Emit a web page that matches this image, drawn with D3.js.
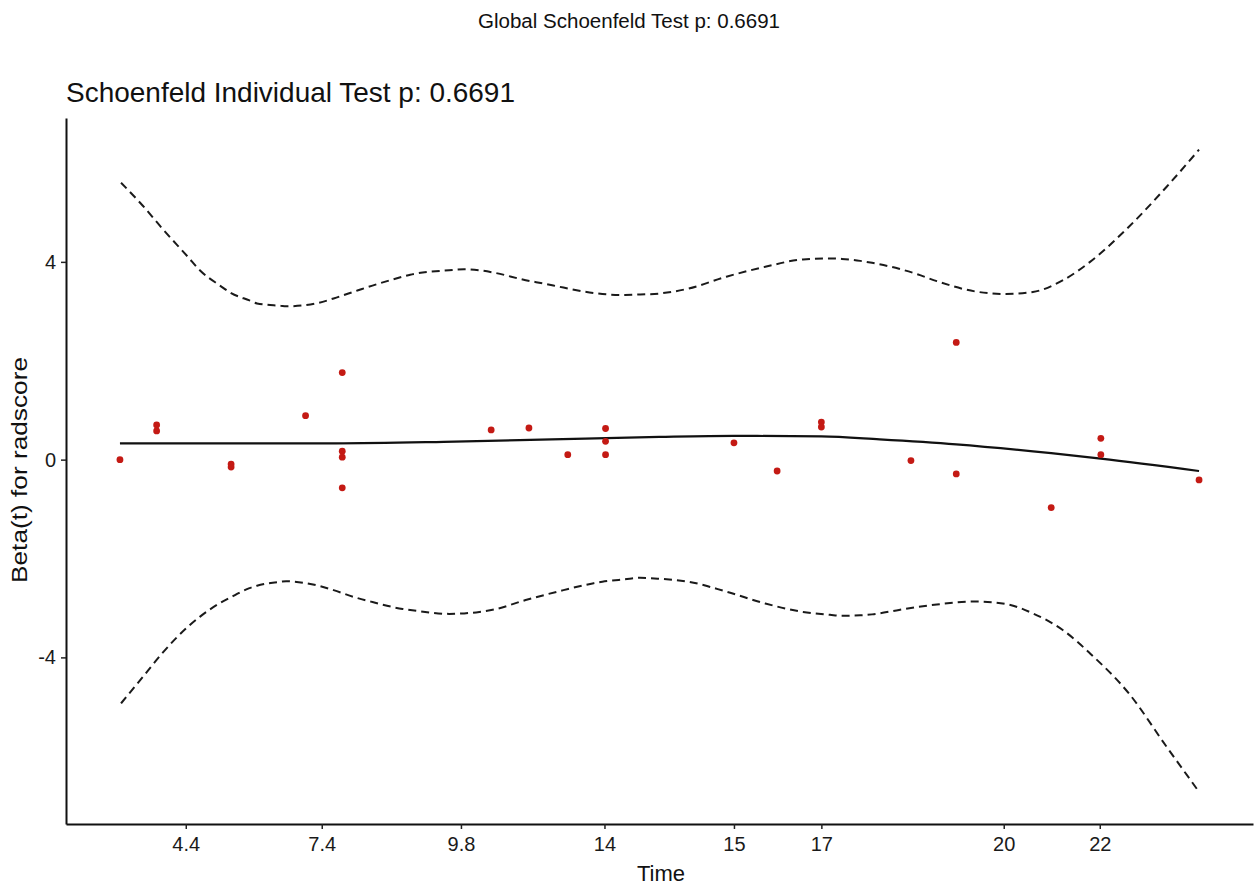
<!DOCTYPE html>
<html>
<head>
<meta charset="utf-8">
<script src="https://cdn.jsdelivr.net/npm/d3@7"></script>
<style>
    body { margin: 0; background: #fff; }
    text { font-family: "Liberation Sans", Arial, sans-serif; }
</style>
</head>
<body>
<div id="chart-area"></div>
<script>
const width = 1260;
const height = 893;

// transformed time (km scale) of each residual, and its scaled Schoenfeld residual
const pointTime = [0.000, 0.034, 0.034, 0.103, 0.103, 0.172, 0.206, 0.206, 0.206, 0.206,
    0.344, 0.379, 0.415, 0.450, 0.450, 0.450, 0.569, 0.609, 0.650, 0.650,
    0.733, 0.775, 0.775, 0.863, 0.909, 0.909, 1.000];
const pointBeta = [0.00, 0.70, 0.58, -0.09, -0.15, 0.89, 1.76, 0.17, 0.05, -0.57,
    0.60, 0.64, 0.10, 0.63, 0.37, 0.10, 0.34, -0.23, 0.76, 0.66,
    -0.02, 2.37, -0.29, -0.97, 0.43, 0.10, -0.41];

// smoothed beta(t)
const fitTime = [0, 0.1, 0.2, 0.3, 0.4, 0.5, 0.569, 0.65, 0.704, 0.775, 0.863, 0.909, 1.0];
const fitBeta = [0.33, 0.33, 0.33, 0.36, 0.41, 0.46, 0.48, 0.47, 0.41, 0.31, 0.13, 0.02, -0.23];

// confidence band
const bandTime = [0.001, 0.021, 0.039, 0.063, 0.074, 0.092, 0.103, 0.120, 0.127, 0.149, 0.154,
    0.170, 0.184, 0.198, 0.220, 0.234, 0.262, 0.269, 0.305, 0.319, 0.333, 0.347,
    0.376, 0.393, 0.411, 0.439, 0.447, 0.468, 0.482, 0.500, 0.527, 0.562, 0.598,
    0.633, 0.658, 0.669, 0.686, 0.697, 0.722, 0.739, 0.757, 0.793, 0.821, 0.846,
    0.874, 0.899, 0.935, 0.970, 1.000];
const bandUpper = [5.60, 5.14, 4.68, 4.10, 3.83, 3.53, 3.37, 3.22, 3.16, 3.11, 3.10,
    3.12, 3.17, 3.26, 3.42, 3.52, 3.70, 3.74, 3.83, 3.85, 3.83, 3.78,
    3.63, 3.56, 3.48, 3.37, 3.35, 3.33, 3.34, 3.36, 3.46, 3.70, 3.90,
    4.05, 4.07, 4.06, 4.02, 3.98, 3.86, 3.75, 3.61, 3.40, 3.35, 3.39,
    3.63, 4.00, 4.71, 5.52, 6.27];
const bandLower = [-4.93, -4.40, -3.92, -3.38, -3.18, -2.91, -2.78, -2.60, -2.55, -2.47, -2.46,
    -2.49, -2.55, -2.64, -2.80, -2.88, -3.02, -3.04, -3.12, -3.11, -3.08, -3.03,
    -2.84, -2.74, -2.64, -2.50, -2.47, -2.42, -2.39, -2.41, -2.47, -2.67, -2.91,
    -3.08, -3.14, -3.16, -3.15, -3.13, -3.04, -2.98, -2.93, -2.87, -2.92, -3.11,
    -3.45, -3.92, -4.73, -5.81, -6.72];

// x-axis breaks: position on the transformed scale and the original time label
const xTickPos = [0.061, 0.187, 0.316, 0.449, 0.569, 0.650, 0.819, 0.908];
const xTickLabels = ["4.4", "7.4", "9.8", "14", "15", "17", "20", "22"];
const yTicks = [-4, 0, 4];

const globalTitle = "Global Schoenfeld Test p: 0.6691";
const panelTitle = "Schoenfeld Individual Test p: 0.6691";

const svg = d3.select("#chart-area")
    .append("svg")
    .attr("width", width)
    .attr("height", height);

const x = d3.scaleLinear()
    .domain([-0.05, 1.05])
    .range([66, 1253]);

const y = d3.scaleLinear()
    .domain([-7.37, 6.91])
    .range([824, 118]);

svg.append("text")
    .attr("x", 478)
    .attr("y", 28)
    .attr("font-size", 20)
    .attr("textLength", 302)
    .attr("lengthAdjust", "spacingAndGlyphs")
    .attr("fill", "#111")
    .text(globalTitle);

svg.append("text")
    .attr("x", 66)
    .attr("y", 102)
    .attr("font-size", 28)
    .attr("textLength", 449)
    .attr("lengthAdjust", "spacingAndGlyphs")
    .attr("fill", "#111")
    .text(panelTitle);

const line = d3.line()
    .x(d => x(d[0]))
    .y(d => y(d[1]))
    .curve(d3.curveMonotoneX);

svg.selectAll("path.band")
    .data([bandUpper, bandLower])
    .enter().append("path")
    .attr("class", "band")
    .attr("d", vals => line(bandTime.map((t, i) => [t, vals[i]])))
    .attr("fill", "none")
    .attr("stroke", "#1a1a1a")
    .attr("stroke-width", 2)
    .attr("stroke-dasharray", "8,5");

svg.append("path")
    .attr("d", line(fitTime.map((t, i) => [t, fitBeta[i]])))
    .attr("fill", "none")
    .attr("stroke", "#111")
    .attr("stroke-width", 2.2);

svg.selectAll("circle")
    .data(pointTime.map((t, i) => ({ t: t, beta: pointBeta[i] })))
    .enter().append("circle")
    .attr("cx", d => x(d.t))
    .attr("cy", d => y(d.beta))
    .attr("r", 3.4)
    .attr("fill", "#c41a14");

const xAxis = svg.append("g")
    .attr("transform", `translate(0, ${824})`)
    .call(d3.axisBottom(x)
        .tickValues(xTickPos)
        .tickFormat((d, i) => xTickLabels[i])
        .tickSize(5)
        .tickPadding(8)
        .tickSizeOuter(0));

const yAxis = svg.append("g")
    .attr("transform", `translate(${66}, 0)`)
    .call(d3.axisLeft(y)
        .tickValues(yTicks)
        .tickFormat(d => String(d))
        .tickSize(5)
        .tickPadding(5)
        .tickSizeOuter(0));

[xAxis, yAxis].forEach(g => {
    g.select(".domain").attr("stroke", "#111").attr("stroke-width", 2);
    g.selectAll(".tick line").attr("stroke", "#222").attr("stroke-width", 1.5);
    g.selectAll(".tick text")
        .attr("font-family", "Liberation Sans, Arial, sans-serif")
        .attr("font-size", 20)
        .attr("fill", "#1a1a1a");
});

svg.append("text")
    .attr("x", 661)
    .attr("y", 881)
    .attr("text-anchor", "middle")
    .attr("font-size", 22)
    .attr("fill", "#111")
    .text("Time");

svg.append("text")
    .attr("transform", `translate(${27}, ${470}) rotate(-90)`)
    .attr("text-anchor", "middle")
    .attr("font-size", 22)
    .attr("textLength", 226)
    .attr("lengthAdjust", "spacingAndGlyphs")
    .attr("fill", "#111")
    .text("Beta(t) for radscore");
</script>
</body>
</html>
